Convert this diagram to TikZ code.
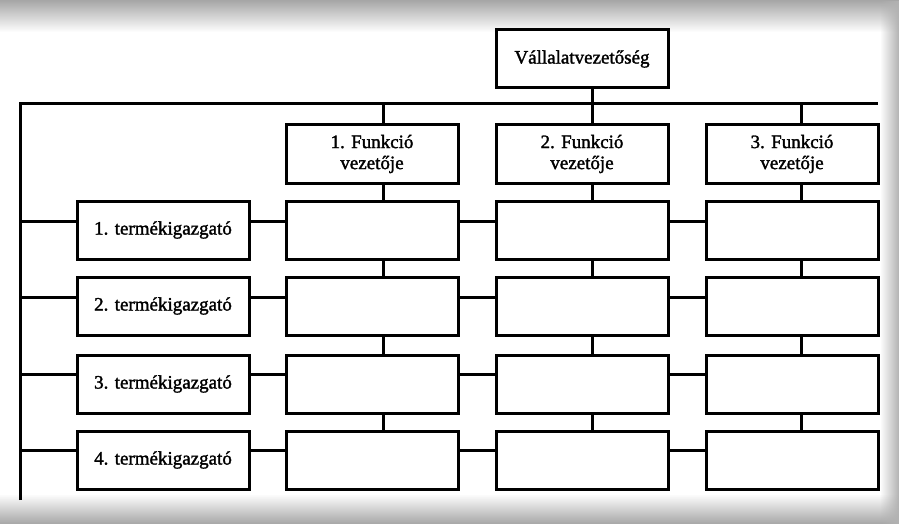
\documentclass[tikz,border=0pt]{standalone}
\usepackage{fontspec}
\setmainfont{Liberation Serif}[BoldFont=Liberation Serif, BoldFeatures={FakeBold=1.6}]
\usetikzlibrary{fadings}
\begin{document}
\begin{tikzpicture}[x=1pt,y=-1pt,
  box/.style={draw, line width=3pt, fill=white, minimum width=172pt, minimum height=58pt,
    inner sep=0pt, align=center, font=\fontsize{19}{21}\selectfont\bfseries},
  link/.style={line width=3pt},
  haze/.style={fill=gray!70}]
% page and soft edge shading
\fill[white] (0,0) rectangle (899,524);
\useasboundingbox (0,0) rectangle (899,524);
\fill[haze, path fading=south] (0,0) rectangle (899,32);
\fill[haze, path fading=north] (0,494) rectangle (899,524);
\fill[gray!60, path fading=west] (880,0) rectangle (899,524);

% column and row guides
\coordinate (bus) at (20,104);
\coordinate (busend) at (878,104);
\coordinate (leftend) at (20,500);
\coordinate (v1) at (383,104);
\coordinate (v2) at (592,104);
\coordinate (v3) at (801,104);
\coordinate (r1) at (20,221);
\coordinate (r2) at (20,297);
\coordinate (r3) at (20,374);
\coordinate (r4) at (20,450);

% boxes
\node[box] (top) at (582,59) {Vállalatvezetőség};
\node[box] (f1) at (372,154) {1. Funkció\\vezetője};
\node[box] (f2) at (582,154) {2. Funkció\\vezetője};
\node[box] (f3) at (792,154) {3. Funkció\\vezetője};

\foreach \r/\y in {1/230,2/306,3/384,4/460}{
  \node[box] (p\r) at (163,\y) {\r. termékigazgató};
  \node[box] (c\r1) at (372,\y) {};
  \node[box] (c\r2) at (582,\y) {};
  \node[box] (c\r3) at (792,\y) {};
}

% main bus and left spine
\draw[link] (leftend) -- (bus) -- (busend);
\draw[link] (top.south -| v2) -- (v2);
\draw[link] (v1) -- (f1.north -| v1);
\draw[link] (v2) -- (f2.north -| v2);
\draw[link] (v3) -- (f3.north -| v3);

% vertical links down each column
\foreach \c in {1,2,3}{
  \draw[link] (f\c.south -| v\c) -- (c1\c.north -| v\c);
  \draw[link] (c1\c.south -| v\c) -- (c2\c.north -| v\c);
  \draw[link] (c2\c.south -| v\c) -- (c3\c.north -| v\c);
  \draw[link] (c3\c.south -| v\c) -- (c4\c.north -| v\c);
}

% horizontal links along each row
\foreach \r in {1,2,3,4}{
  \draw[link] (r\r) -- (r\r -| p\r.west);
  \draw[link] (r\r -| p\r.east) -- (r\r -| c\r1.west);
  \draw[link] (r\r -| c\r1.east) -- (r\r -| c\r2.west);
  \draw[link] (r\r -| c\r2.east) -- (r\r -| c\r3.west);
}
\end{tikzpicture}
\end{document}
